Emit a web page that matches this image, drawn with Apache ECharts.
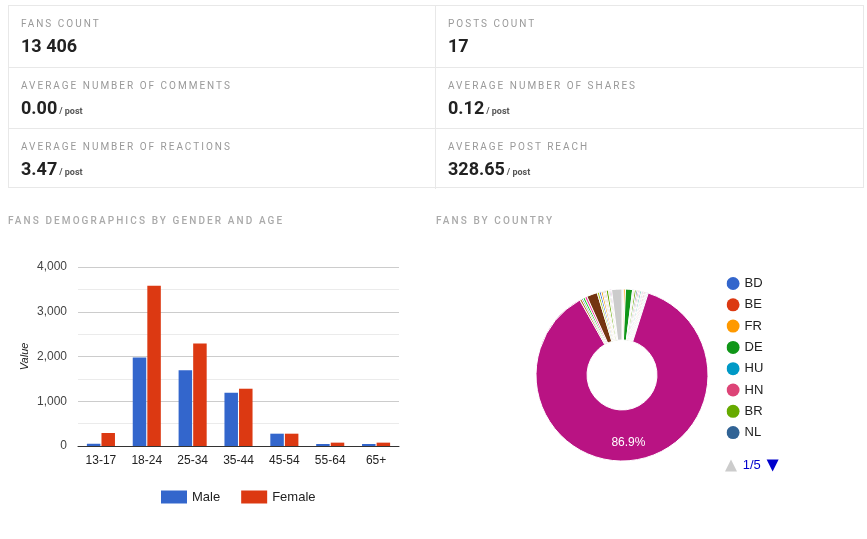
<!DOCTYPE html>
<html>
<head>
<meta charset="utf-8">
<script src="https://cdn.jsdelivr.net/npm/echarts@6/dist/echarts.min.js"></script>
<style>
  html, body { margin:0; padding:0; background:#fff; width:867px; height:539px; overflow:hidden; font-family: Roboto, Arial, sans-serif; }
  #chart { position:absolute; left:0; top:0; width:867px; height:539px; }
  #cards { position:absolute; left:8px; top:5px; width:856px; height:183px; border:1px solid #e8e8e8; box-sizing:border-box; z-index:2; }
  .cell { position:absolute; box-sizing:border-box; }
  .lbl { position:absolute; left:12px; top:12px; font-size:10px; line-height:12px; letter-spacing:2px; color:#999; white-space:nowrap; }
  .val { position:absolute; left:12px; top:29px; font-size:18px; line-height:22px; font-weight:bold; color:#222; white-space:nowrap; }
  .val small { font-size:9px; font-weight:bold; color:#555; margin-left:2px; }
  .sect { position:absolute; font-size:10px; line-height:12px; letter-spacing:2.1px; color:#aaa; font-weight:500; white-space:nowrap; z-index:2; }
</style>
</head>
<body>
<div id="chart"></div>
<div id="cards"></div>
<div class="sect" id="t1" style="left:8px; top:215px;"></div>
<div class="sect" id="t2" style="left:436px; top:215px;"></div>
<script>
// ---- KPI data ----
const kpiLabels = ["FANS COUNT", "POSTS COUNT", "AVERAGE NUMBER OF COMMENTS", "AVERAGE NUMBER OF SHARES", "AVERAGE NUMBER OF REACTIONS", "AVERAGE POST REACH"];
const kpiValues = ["13 406", "17", "0.00", "0.12", "3.47", "328.65"];
const kpiUnits = ["", "", "/ post", "/ post", "/ post", "/ post"];

const sectionTitles = ["FANS DEMOGRAPHICS BY GENDER AND AGE", "FANS BY COUNTRY"];

// ---- Bar chart data ----
const ageGroups = ["13-17", "18-24", "25-34", "35-44", "45-54", "55-64", "65+"];
const maleValues = [50, 1980, 1690, 1190, 275, 45, 45];
const femaleValues = [290, 3580, 2290, 1280, 275, 75, 75];
const yTicks = [0, 1000, 2000, 3000, 4000];

// ---- Pie data ----
const countries = ["BD","BE","FR","DE","HU","HN","BR","NL","ES","IT","US","GB","PT","PL","RO","AT","CH","SE","CZ",
                   "MA",
                   "IN","PK","NG","EG","DZ","TR","CA","AU","JP","KR","CN","RU","UA","GR","BG","Other"];
const countryFans = [25,20,40,170,20,25,45,35,30,25,35,20,25,20,25,20,20,15,20,
                     11178,
                     50,35,50,55,260,50,45,45,25,25,30,55,25,25,25,250];
const countryColors = ["#3366cc","#dc3912","#ff9900","#109618","#0099c6","#dd4477","#66aa00","#316395","#b82e2e","#994499",
                       "#22aa99","#aaaa11","#6633cc","#e67300","#8b0707","#651067","#329262","#5574a6","#3b3eac",
                       "#b91383",
                       "#b77322","#316395","#16d620","#f4359e","#743411","#a9c413","#3366cc","#ff9900","#2a778d","#668d1c",
                       "#dd4477","#66aa00","#bea413","#0c5922","#990099","#cccccc"];

// ---- Build KPI cards ----
const cards = document.getElementById('cards');
const colW = [427, 428];
for (let i = 0; i < kpiLabels.length; i++) {
  const c = document.createElement('div');
  c.className = 'cell';
  const col = i % 2, row = Math.floor(i / 2);
  c.style.left = (col === 0 ? 0 : 426) + 'px';
  c.style.top = (row * 61) + 'px';
  c.style.width = colW[col] + 'px';
  c.style.height = '61px';
  if (col === 1) c.style.borderLeft = '1px solid #e8e8e8';
  if (row > 0) c.style.borderTop = '1px solid #e8e8e8';
  const l = document.createElement('div'); l.className = 'lbl'; l.textContent = kpiLabels[i];
  const v = document.createElement('div'); v.className = 'val'; v.textContent = kpiValues[i];
  if (kpiUnits[i]) { const s = document.createElement('small'); s.textContent = kpiUnits[i]; v.appendChild(s); }
  c.appendChild(l); c.appendChild(v);
  cards.appendChild(c);
}
document.getElementById('t1').textContent = sectionTitles[0];
document.getElementById('t2').textContent = sectionTitles[1];

// ---- Chart ----
const chart = echarts.init(document.getElementById('chart'), null, { renderer: 'canvas' });
const fanTotal = countryFans.reduce((a, b) => a + b, 0);
const pieData = countries.map((n, i) => {
  const d = { name: n, value: countryFans[i], itemStyle: { color: countryColors[i] } };
  if (countryFans[i] / fanTotal > 0.5) d.label = { show: true };
  return d;
});

chart.setOption({
  animation: false,
  textStyle: { fontFamily: 'Arial, "Liberation Sans", sans-serif' },
  grid: { left: 78, top: 267, width: 321, height: 179 },
  xAxis: {
    type: 'category', data: ageGroups,
    axisLine: { show: true, lineStyle: { color: '#333', width: 1 } },
    axisTick: { show: false },
    axisLabel: { color: '#222', fontSize: 12, margin: 9 }
  },
  yAxis: {
    type: 'value', min: yTicks[0], max: yTicks[yTicks.length - 1], interval: 1000,
    name: 'Value', nameLocation: 'middle', nameGap: 48,
    nameTextStyle: { fontStyle: 'italic', fontSize: 11, color: '#222' },
    axisLine: { show: false }, axisTick: { show: false },
    axisLabel: { color: '#444', fontSize: 12, margin: 11, formatter: v => v.toLocaleString('en-US') },
    splitLine: { lineStyle: { color: '#cccccc' } },
    minorTick: { show: false, splitNumber: 2 },
    minorSplitLine: { show: true, lineStyle: { color: '#ebebeb' } }
  },
  legend: [
    {
      data: ['Male', 'Female'], left: 161, top: 490.5, padding: 0, icon: 'rect',
      itemWidth: 26, itemHeight: 13, itemGap: 21,
      textStyle: { fontSize: 13, color: '#222' }
    },
    {
      type: 'scroll', orient: 'vertical', data: countries,
      left: 725, top: 277, height: 195, padding: 0,
      icon: 'circle', itemWidth: 13, itemHeight: 13, itemGap: 8.3,
      itemStyle: { borderWidth: 0 },
      textStyle: { fontSize: 13, color: '#222', width: 36, overflow: 'truncate' },
      pageIconColor: '#0000cc', pageIconInactiveColor: '#cccccc', pageIconSize: [13, 12],
      pageTextStyle: { color: '#0000cc', fontSize: 13 },
      pageButtonItemGap: 0, pageButtonGap: 15
    }
  ],
  series: [
    { name: 'Male', type: 'bar', data: maleValues, barWidth: 13.5, barGap: '8%', itemStyle: { color: '#3366cc' } },
    { name: 'Female', type: 'bar', data: femaleValues, barWidth: 13.5, barGap: '8%', itemStyle: { color: '#dc3912' } },
    {
      name: 'Fans by country', type: 'pie', center: [622, 375], radius: [35, 86],
      startAngle: 90, clockwise: true, avoidLabelOverlap: false,
      itemStyle: { borderColor: '#fff', borderWidth: 1 },
      label: {
        show: false, position: 'inside', color: '#fff', fontSize: 12, offset: [0, 5],
        formatter: p => p.percent.toFixed(1) + '%'
      },
      labelLine: { show: false },
      emphasis: { disabled: true },
      data: pieData
    }
  ]
});
</script>
</body>
</html>
